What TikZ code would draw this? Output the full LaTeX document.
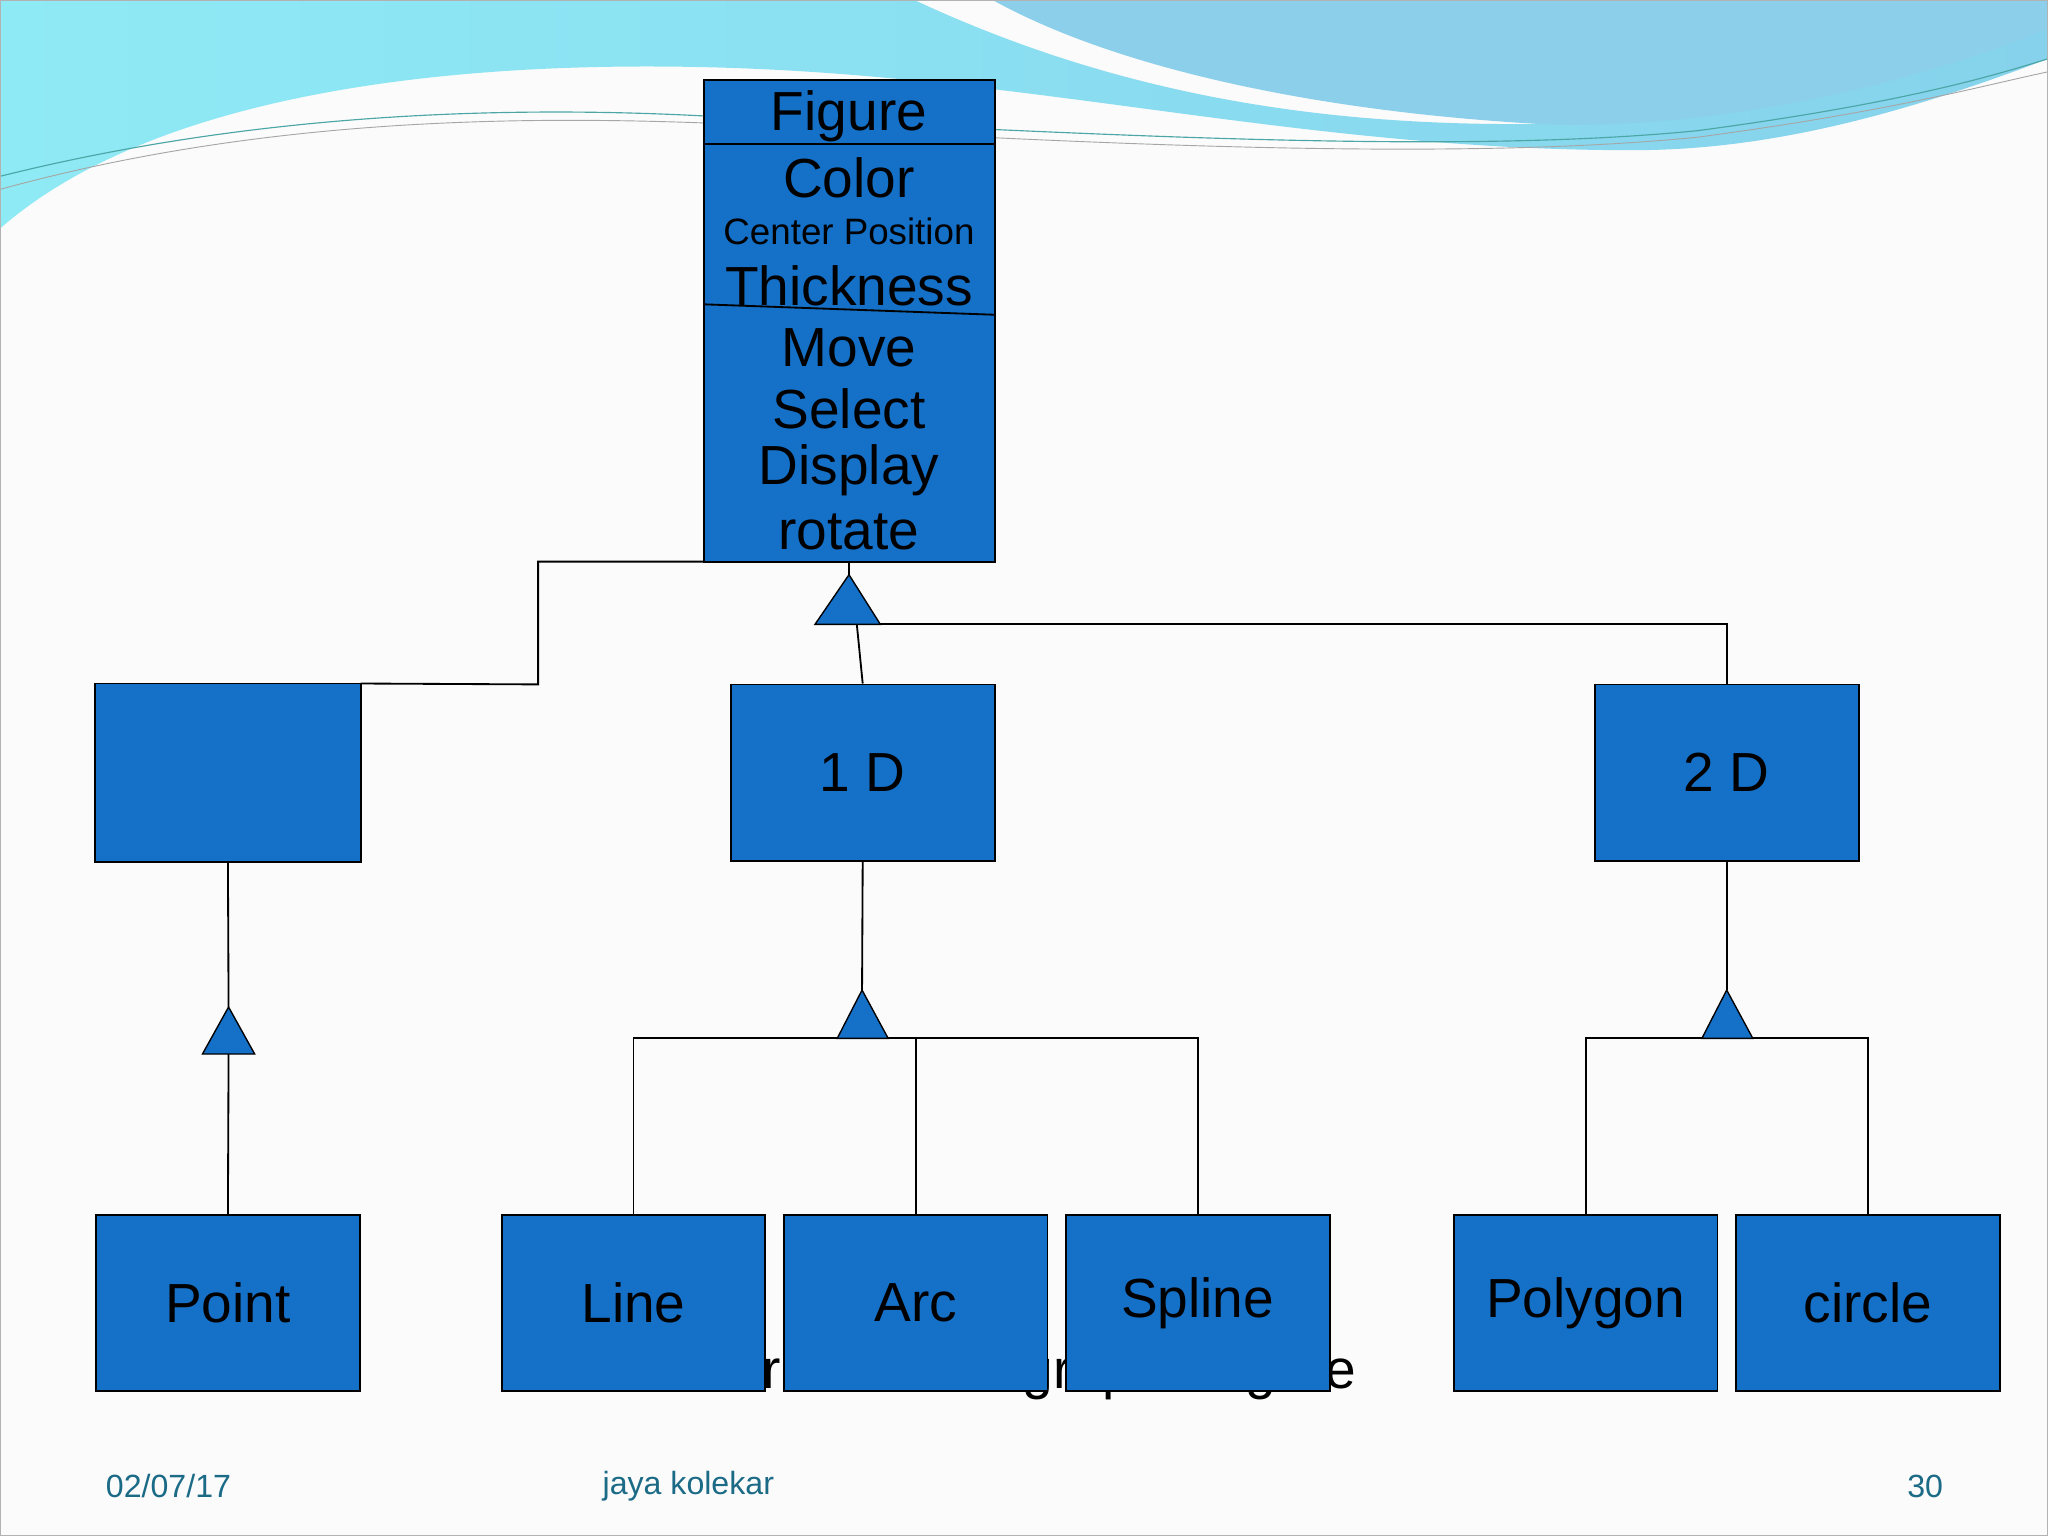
\documentclass[tikz,border=0pt]{standalone}
\usepackage{fontspec}
\setmainfont{Liberation Sans}
\begin{document}
\begin{tikzpicture}[x=0.02cm,y=-0.02cm,
 box/.style={draw=black,fill=boxblue,line width=0.8pt,minimum width=4.04cm,minimum height=2.7cm,inner sep=0pt,font=\fontsize{24}{28}\selectfont},
 tri/.style={draw=black,fill=boxblue,line width=0.6pt},
 con/.style={draw=black,line width=0.8pt},
 foot/.style={text=footc,font=\fontsize{14}{16}\selectfont}]
\definecolor{boxblue}{HTML}{1570C8}
\definecolor{footc}{HTML}{1B6A86}
\definecolor{cyanA}{HTML}{8EEAF5}
\definecolor{cyanB}{HTML}{86D2EC}
\definecolor{blueC}{HTML}{8CCFEA}
\useasboundingbox (0,0) rectangle (1568,1176);
\fill[white!97!gray] (0,0) rectangle (1568,1176);
% background waves
\shade[left color=cyanA,right color=cyanB] (0,0) -- (700,0) .. controls (850,70) and (1000,95) .. (1160,95) .. controls (1350,95) and (1480,50) .. (1568,15) -- (1568,45) .. controls (1450,90) and (1350,115) .. (1250,115) .. controls (1000,115) and (800,60) .. (560,52) .. controls (350,45) and (120,70) .. (0,175) -- cycle;
\fill[blueC] (760,0) -- (1568,0) -- (1568,22) .. controls (1450,70) and (1300,100) .. (1180,95) .. controls (1000,85) and (850,50) .. (760,0) -- cycle;
\draw[teal!70,line width=0.5pt] (0,135) .. controls (200,85) and (400,80) .. (560,90) .. controls (800,100) and (1100,120) .. (1300,100) .. controls (1450,80) and (1520,60) .. (1568,45);
\draw[gray!70,line width=0.4pt] (0,145) .. controls (200,90) and (400,88) .. (560,95) .. controls (800,108) and (1100,125) .. (1300,105) .. controls (1450,85) and (1520,65) .. (1568,55);
% hidden caption
\node[font=\fontsize{24}{28}\selectfont] (cap) at (770,1052) {Inheritance for graphic figure};
% Figure class box
\draw[con,fill=boxblue] (539,61) rectangle (762,430);
\coordinate (figbl) at (539,430);
\coordinate (figb) at (650,430);
\draw[con] (539,110) -- (762,110);
\draw[con] (539,233) -- (762,241);
\node[font=\fontsize{24}{28}\selectfont] (fname) at (650,89) {Figure};
\node[font=\fontsize{24}{28}\selectfont] (a1) at (650,136) {Color};
\node[font=\fontsize{16}{18}\selectfont] (a2) at (650,177) {Center Position};
\node[font=\fontsize{24}{28}\selectfont] (a3) at (650,219) {Thickness};
\node[font=\fontsize{24}{28}\selectfont] (m1) at (650,266) {Move};
\node[font=\fontsize{24}{28}\selectfont] (m2) at (650,313) {Select};
\node[font=\fontsize{24}{28}\selectfont] (m3) at (650,360) {Display};
\node[font=\fontsize{24}{28}\selectfont] (m4) at (650,407) {rotate};
% boxes
\node[box] (d0) at (174.5,591.5) {0 D};
\node[box] (d1) at (660.5,591.5) {1 D};
\node[box] (d2) at (1322,591.5) {2 D};
\node[box] (pt) at (174.5,997.5) {Point};
\node[box] (ln) at (485,997.5) {Line};
\node[box] (ar) at (701,997.5) {Arc};
\node[box] (sp) at (917,997.5) {Spline};
\node[box] (pg) at (1214,997.5) {Polygon};
\node[box] (ci) at (1430,997.5) {circle};
\draw[box] (d0.south west) rectangle (d0.north east);
% top connectors
\coordinate (t0a) at (650,440);
\coordinate (t0b) at (624,478);
\coordinate (t0c) at (674,478);
\draw[con] (figbl) -- (412,430) -- (412,524) -- (d0.north east);
\draw[con] (figb) -- (t0a);
\draw[con] (656,478) -- (d1.north);
\draw[con] (t0c) -- (1322,478) -- (d2.north);
\draw[tri] (t0a) -- (t0b) -- (t0c) -- cycle;
% 0D
\coordinate (t1a) at (175,771);
\draw[con] (d0.south) -- (t1a);
\draw[con] (175,807) -- (pt.north);
\draw[tri] (t1a) -- (155,807) -- (195,807) -- cycle;
% 1D
\coordinate (t2a) at (660,758);
\draw[con] (d1.south) -- (t2a);
\draw[con] (ln.north) -- (485,795) -- (917,795) -- (sp.north);
\draw[con] (701,795) -- (ar.north);
\draw[tri] (t2a) -- (641,795) -- (680,795) -- cycle;
% 2D
\coordinate (t3a) at (1322,758);
\draw[con] (d2.south) -- (t3a);
\draw[con] (pg.north) -- (1214,795) -- (1430,795) -- (ci.north);
\draw[tri] (t3a) -- (1303,795) -- (1342,795) -- cycle;
% footer
\node[foot] (f1) at (129,1138) {02/07/17};
\node[foot] (f2) at (527,1138) {jaya kolekar};
\node[foot] (f3) at (1474,1138) {30};
\draw[gray!60,line width=1pt] (0,0) rectangle (1568,1176);
\end{tikzpicture}
\end{document}
